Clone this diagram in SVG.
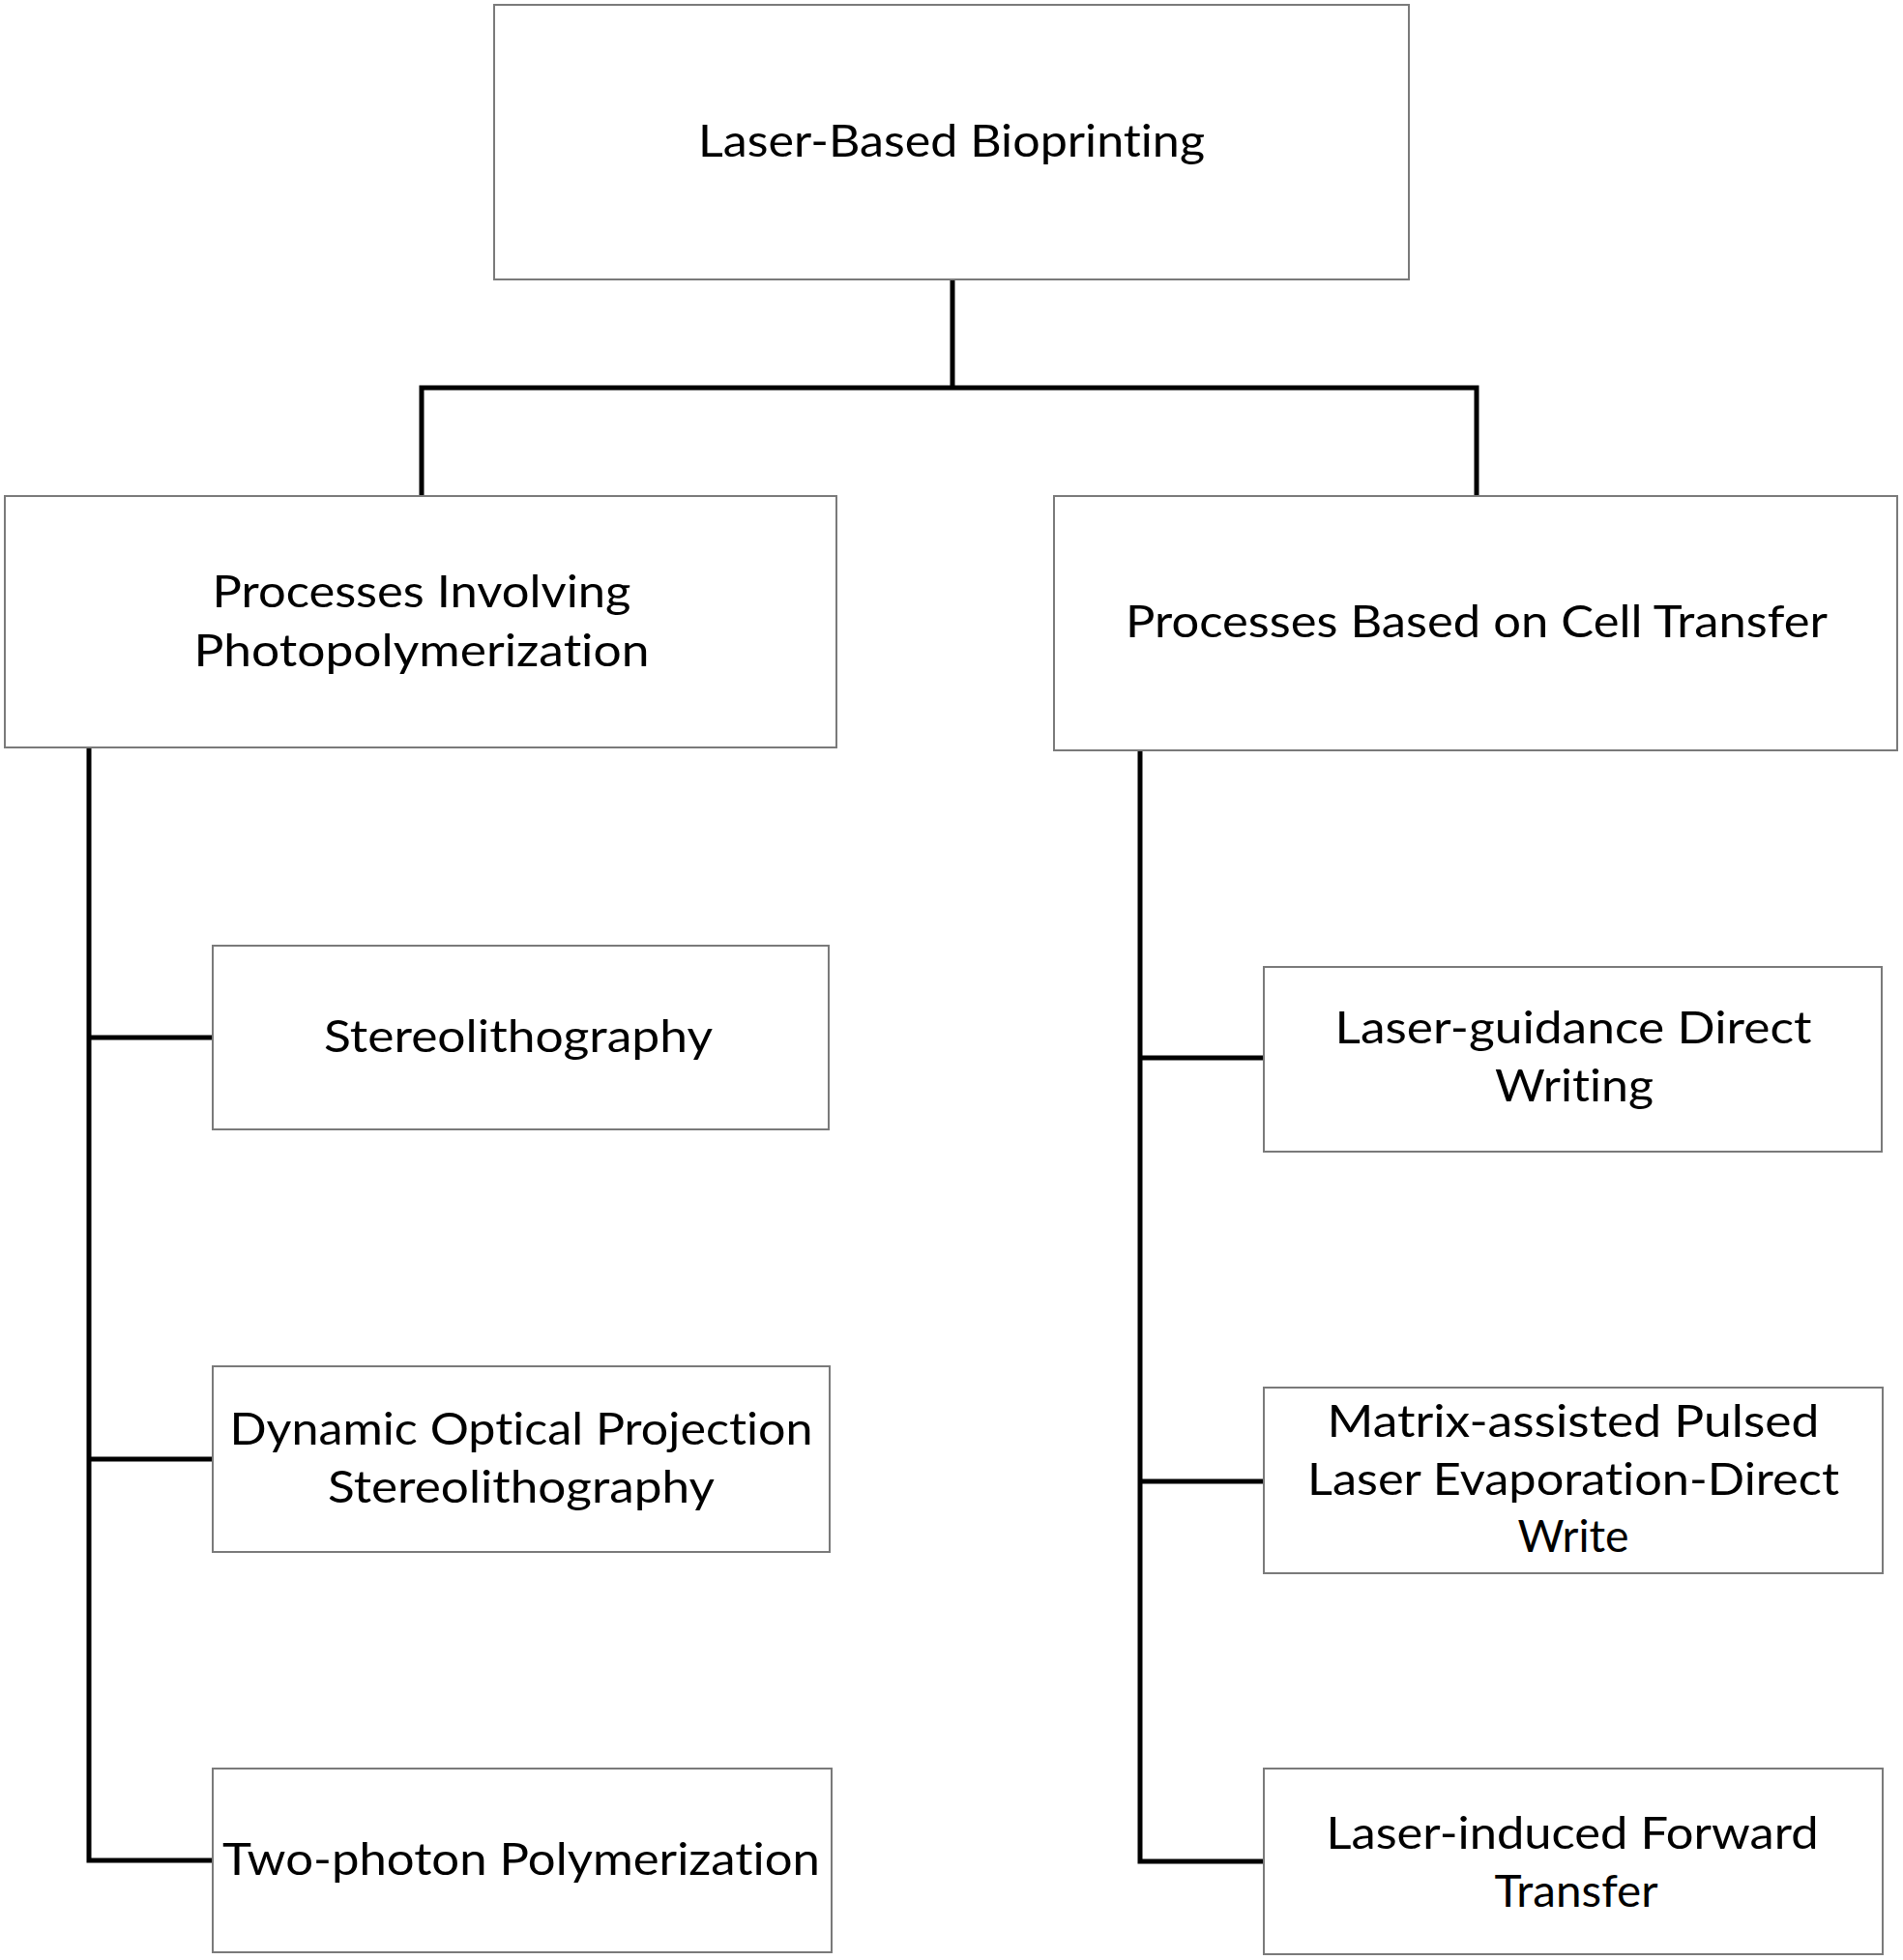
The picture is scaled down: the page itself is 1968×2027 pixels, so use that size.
<svg xmlns="http://www.w3.org/2000/svg" width="1968" height="2027" viewBox="0 0 1968 2027">
<style>
.box{fill:#fff;stroke:#7a7a7a;stroke-width:2}
.t{font-family:Lato,"Open Sans","Liberation Sans",sans-serif;font-size:47px;fill:#000;text-anchor:middle;font-variant-ligatures:none;font-feature-settings:"liga" 0,"clig" 0}
.c{fill:none;stroke:#000;stroke-width:5;stroke-linejoin:miter;stroke-linecap:square}
</style>
<rect width="1968" height="2027" fill="#fff"/>
<g id="connectors">
<path class="c" d="M985 289V401M436 513V401H1527V513"/>
<path class="c" d="M92 773V1924H220M92 1073H220M92 1509H220"/>
<path class="c" d="M1179 776V1925H1307M1179 1094H1307M1179 1532H1307"/>
</g>
<g id="root">
<rect class="box" x="511" y="5" width="946" height="284"/>
<text class="t" x="984" y="162" textLength="524" lengthAdjust="spacingAndGlyphs">Laser-Based Bioprinting</text>
</g>
<g id="photo">
<rect class="box" x="5" y="513" width="860" height="260"/>
<text class="t" x="436" y="628" textLength="433" lengthAdjust="spacingAndGlyphs">Processes Involving</text>
<text class="t" x="436" y="689" textLength="471" lengthAdjust="spacingAndGlyphs">Photopolymerization</text>
</g>
<g id="transfer">
<rect class="box" x="1090" y="513" width="872" height="263"/>
<text class="t" x="1527" y="659" textLength="726" lengthAdjust="spacingAndGlyphs">Processes Based on Cell Transfer</text>
</g>
<g id="sla">
<rect class="box" x="220" y="978" width="637" height="190"/>
<text class="t" x="536" y="1088" textLength="402" lengthAdjust="spacingAndGlyphs">Stereolithography</text>
</g>
<g id="dops">
<rect class="box" x="220" y="1413" width="638" height="192"/>
<text class="t" x="539" y="1494" textLength="603" lengthAdjust="spacingAndGlyphs">Dynamic Optical Projection</text>
<text class="t" x="539" y="1554" textLength="400" lengthAdjust="spacingAndGlyphs">Stereolithography</text>
</g>
<g id="tpp">
<rect class="box" x="220" y="1829" width="640" height="190"/>
<text class="t" x="539" y="1939" textLength="618" lengthAdjust="spacingAndGlyphs">Two-photon Polymerization</text>
</g>
<g id="ldw">
<rect class="box" x="1307" y="1000" width="639" height="191"/>
<text class="t" x="1627" y="1079" textLength="493" lengthAdjust="spacingAndGlyphs">Laser-guidance Direct</text>
<text class="t" x="1628" y="1139" textLength="164" lengthAdjust="spacingAndGlyphs">Writing</text>
</g>
<g id="maple">
<rect class="box" x="1307" y="1435" width="640" height="192"/>
<text class="t" x="1627" y="1486" textLength="509" lengthAdjust="spacingAndGlyphs">Matrix-assisted Pulsed</text>
<text class="t" x="1627" y="1546" textLength="550" lengthAdjust="spacingAndGlyphs">Laser Evaporation-Direct</text>
<text class="t" x="1627" y="1605" textLength="115" lengthAdjust="spacingAndGlyphs">Write</text>
</g>
<g id="lift">
<rect class="box" x="1307" y="1829" width="640" height="192"/>
<text class="t" x="1626" y="1912" textLength="509" lengthAdjust="spacingAndGlyphs">Laser-induced Forward</text>
<text class="t" x="1630" y="1972" textLength="169" lengthAdjust="spacingAndGlyphs">Transfer</text>
</g>
</svg>
